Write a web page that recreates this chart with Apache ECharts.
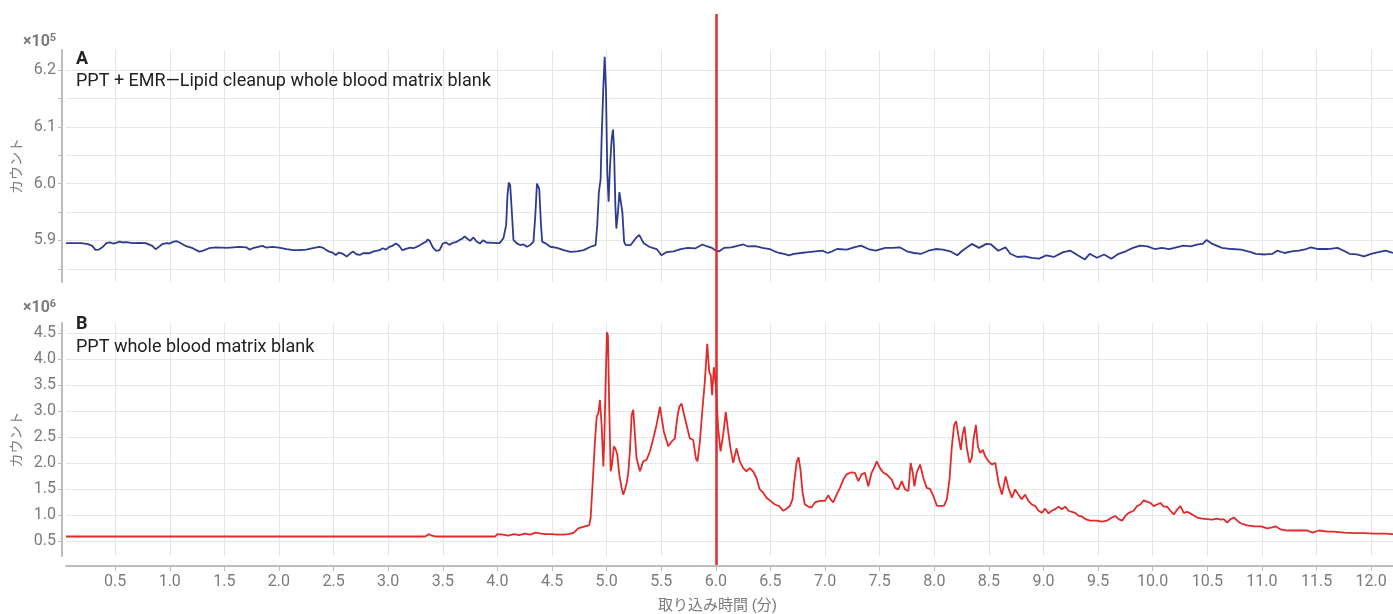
<!DOCTYPE html>
<html>
<head>
<meta charset="utf-8">
<script src="https://cdn.jsdelivr.net/npm/echarts@6/dist/echarts.min.js"></script>
<style>
  html, body { margin: 0; padding: 0; background: #fff; }
  #chart { width: 1393px; height: 614px; }
</style>
</head>
<body>
<div id="chart"></div>
<script>
// 取り込み時間 (分) と カウント — A: ×10^5, B: ×10^6
var timesA = [0.05, 0.19, 0.2, 0.25, 0.29, 0.32, 0.35, 0.38, 0.42, 0.45, 0.48, 0.51, 0.54, 0.57, 0.6, 0.66, 0.72, 0.78, 0.84, 0.87, 0.9, 0.93, 0.97, 1.0, 1.03, 1.06, 1.09, 1.15, 1.21, 1.27, 1.3, 1.36, 1.42, 1.48, 1.52, 1.58, 1.64, 1.7, 1.73, 1.76, 1.82, 1.85, 1.88, 1.94, 2.0, 2.07, 2.13, 2.19, 2.25, 2.31, 2.37, 2.4, 2.43, 2.46, 2.49, 2.52, 2.55, 2.58, 2.62, 2.65, 2.68, 2.71, 2.74, 2.77, 2.83, 2.86, 2.89, 2.92, 2.95, 2.98, 3.01, 3.04, 3.07, 3.1, 3.13, 3.17, 3.2, 3.23, 3.26, 3.29, 3.32, 3.35, 3.36, 3.38, 3.41, 3.44, 3.47, 3.5, 3.53, 3.56, 3.59, 3.62, 3.65, 3.68, 3.7, 3.72, 3.75, 3.78, 3.81, 3.84, 3.87, 3.9, 3.96, 4.02,
  4.055, 4.08, 4.092, 4.104, 4.117, 4.132, 4.147, 4.178, 4.208, 4.239, 4.27, 4.3, 4.33, 4.347, 4.362, 4.371, 4.383, 4.399, 4.41, 4.44, 4.485, 4.546, 4.607, 4.668, 4.73, 4.79, 4.853, 4.899, 4.914, 4.929, 4.945, 4.954, 4.969, 4.982, 4.994, 5.006, 5.018, 5.031, 5.046, 5.058, 5.067, 5.08, 5.089, 5.104, 5.117, 5.129, 5.144, 5.16, 5.175, 5.22, 5.267, 5.298, 5.34, 5.39, 5.42, 5.458, 5.502, 5.546, 5.612, 5.678, 5.744, 5.81, 5.877, 5.921, 5.965, 6.0,
  6.031, 6.075, 6.141, 6.207, 6.251, 6.295, 6.361, 6.427, 6.493, 6.537, 6.581, 6.626, 6.67, 6.714, 6.78, 6.846, 6.912, 6.978, 7.022, 7.066, 7.11, 7.198, 7.264, 7.33, 7.396, 7.463, 7.551, 7.617, 7.683, 7.749, 7.815, 7.881, 7.947, 8.013, 8.079, 8.145, 8.211, 8.256, 8.344, 8.41, 8.476, 8.52, 8.586, 8.652, 8.696, 8.762, 8.828, 8.894, 8.96, 9.026, 9.093, 9.181, 9.247, 9.313, 9.379, 9.423, 9.489, 9.555, 9.621, 9.687, 9.753, 9.819, 9.885, 9.952, 10.018, 10.084, 10.15, 10.216, 10.282, 10.348, 10.414, 10.458, 10.493, 10.546, 10.634, 10.722, 10.81, 10.899, 10.943, 11.031, 11.097, 11.141, 11.207, 11.273, 11.339, 11.405, 11.449, 11.515, 11.604, 11.692, 11.758, 11.802, 11.868, 11.934, 12.0, 12.066, 12.132, 12.2];
var countsA = [5.8953, 5.8953, 5.8947, 5.8935, 5.8906, 5.8835, 5.884, 5.8876, 5.8953, 5.8965, 5.8947, 5.8959, 5.8982, 5.8965, 5.897, 5.8953, 5.8959, 5.8953, 5.8906, 5.8847, 5.8888, 5.8935, 5.8953, 5.8947, 5.8976, 5.8988, 5.8965, 5.89, 5.8864, 5.8805, 5.8817, 5.8864, 5.888, 5.8876, 5.887, 5.888, 5.8888, 5.888, 5.884, 5.8864, 5.8894, 5.8906, 5.8876, 5.8888, 5.8876, 5.8847, 5.8829, 5.8829, 5.884, 5.8864, 5.8888, 5.8876, 5.8835, 5.8805, 5.8788, 5.8746, 5.8788, 5.877, 5.8717, 5.877, 5.8805, 5.8758, 5.8746, 5.8776, 5.8776, 5.8805, 5.8817, 5.8829, 5.8864, 5.884, 5.8888, 5.8906, 5.8947, 5.8906, 5.8829, 5.8858, 5.8876, 5.8864, 5.8888, 5.8917, 5.8953, 5.8982, 5.9018, 5.8994, 5.8876, 5.8817, 5.8829, 5.8947, 5.8965, 5.8923, 5.8959, 5.897, 5.9006, 5.9035, 5.9071, 5.904, 5.8994, 5.9053, 5.8982, 5.8947, 5.9006, 5.8965, 5.8959, 5.8953,
  5.904, 5.927, 5.979, 6.002, 5.997, 5.95, 5.901, 5.895, 5.892, 5.893, 5.889, 5.892, 5.898, 5.944, 6.0, 6.002, 5.991, 5.927, 5.898, 5.895, 5.889, 5.887, 5.883, 5.88, 5.881, 5.883, 5.889, 5.892, 5.927, 5.985, 6.008, 6.078, 6.165, 6.223, 6.165, 6.02, 5.968, 6.031, 6.078, 6.095, 6.066, 5.962, 5.921, 5.95, 5.985, 5.988, 5.95, 5.898, 5.892, 5.892, 5.904, 5.91, 5.895, 5.889, 5.887, 5.885, 5.874, 5.8795, 5.881, 5.885, 5.887, 5.886, 5.893, 5.8895, 5.887, 5.882,
  5.881, 5.887, 5.888, 5.891, 5.893, 5.8895, 5.89, 5.887, 5.885, 5.881, 5.878, 5.8766, 5.874, 5.8766, 5.878, 5.8795, 5.881, 5.882, 5.878, 5.881, 5.885, 5.884, 5.888, 5.891, 5.885, 5.882, 5.887, 5.887, 5.888, 5.881, 5.878, 5.8766, 5.882, 5.885, 5.884, 5.881, 5.874, 5.882, 5.894, 5.887, 5.894, 5.893, 5.882, 5.888, 5.8766, 5.871, 5.872, 5.8696, 5.868, 5.874, 5.871, 5.8795, 5.882, 5.874, 5.8667, 5.8766, 5.8696, 5.8754, 5.868, 5.8766, 5.881, 5.887, 5.891, 5.8895, 5.885, 5.887, 5.885, 5.888, 5.891, 5.8895, 5.893, 5.894, 5.901, 5.894, 5.887, 5.885, 5.884, 5.8795, 5.8766, 5.8754, 5.8766, 5.882, 5.878, 5.881, 5.882, 5.885, 5.888, 5.885, 5.885, 5.887, 5.881, 5.8766, 5.8754, 5.872, 5.8766, 5.8795, 5.882, 5.878];

var timesB = [0.05, 3.34, 3.37, 3.4, 3.43, 3.98, 4.0, 4.05, 4.1, 4.15, 4.2, 4.25, 4.3, 4.35, 4.4, 4.45, 4.5, 4.55, 4.6, 4.65, 4.7, 4.74, 4.8, 4.84, 4.854, 4.878, 4.893, 4.909, 4.924, 4.939, 4.954, 4.97, 4.979, 4.991, 5.003, 5.012, 5.024, 5.037, 5.049, 5.067, 5.085, 5.098, 5.116, 5.137, 5.152, 5.168, 5.183, 5.198, 5.213, 5.229, 5.244, 5.259, 5.274, 5.305, 5.335, 5.366, 5.396, 5.427, 5.457, 5.488, 5.503, 5.524, 5.543, 5.564, 5.595, 5.625, 5.646, 5.665, 5.686, 5.707, 5.732, 5.762, 5.793, 5.817, 5.832, 5.854, 5.878, 5.899, 5.921, 5.939, 5.954, 5.966, 5.982, 6.0, 6.021, 6.043, 6.067, 6.091, 6.113, 6.134, 6.159, 6.189, 6.219, 6.25, 6.28, 6.31, 6.34, 6.372, 6.402, 6.433, 6.463, 6.5, 6.54, 6.58, 6.616, 6.647, 6.677, 6.702, 6.717, 6.739, 6.757, 6.775, 6.794, 6.815, 6.846, 6.876, 6.907, 6.953, 7.0, 7.029, 7.05, 7.075, 7.106, 7.136, 7.167, 7.197, 7.243, 7.274, 7.304, 7.335, 7.365, 7.396, 7.426, 7.457, 7.473, 7.503, 7.534, 7.564, 7.61, 7.641, 7.671, 7.702, 7.732, 7.763, 7.784, 7.803, 7.818, 7.839, 7.87, 7.9, 7.931, 7.961, 7.992, 8.023, 8.053, 8.09, 8.115, 8.139, 8.161, 8.182, 8.2, 8.222, 8.243, 8.259, 8.277, 8.298, 8.323, 8.344, 8.359, 8.381, 8.399, 8.42, 8.445, 8.466, 8.497, 8.528, 8.558, 8.589, 8.619, 8.654, 8.679, 8.71, 8.74, 8.771, 8.8, 8.832, 8.862, 8.893, 8.924, 8.954, 8.985, 9.015, 9.046, 9.076, 9.107, 9.138, 9.168, 9.199, 9.229, 9.26, 9.291, 9.321, 9.352, 9.382, 9.428, 9.489, 9.535, 9.581, 9.627, 9.657, 9.688, 9.719, 9.749, 9.78, 9.826, 9.856, 9.887, 9.917, 9.948, 9.979, 10.009, 10.04, 10.07, 10.1, 10.131, 10.162, 10.193, 10.223, 10.254, 10.284, 10.315, 10.361, 10.407, 10.453, 10.498, 10.544, 10.59, 10.621, 10.651, 10.682, 10.713, 10.743, 10.774, 10.804, 10.865, 10.927, 10.988, 11.049, 11.095, 11.125, 11.171, 11.232, 11.294, 11.355, 11.416, 11.462, 11.523, 11.599, 11.66, 11.752, 11.844, 11.936, 12.028, 12.12, 12.2];
var countsB = [0.585, 0.585, 0.63, 0.6, 0.585, 0.585, 0.63, 0.62, 0.6, 0.63, 0.61, 0.64, 0.62, 0.66, 0.64, 0.63, 0.63, 0.62, 0.62, 0.63, 0.66, 0.74, 0.78, 0.8, 0.95, 1.84, 2.41, 2.89, 2.95, 3.21, 2.73, 1.93, 2.47, 3.56, 4.51, 4.45, 3.05, 1.84, 1.97, 2.32, 2.25, 2.16, 1.77, 1.52, 1.39, 1.49, 1.61, 1.81, 2.22, 2.92, 3.02, 2.54, 2.09, 1.84, 2.03, 2.06, 2.22, 2.47, 2.73, 3.08, 3.05, 2.6, 2.47, 2.32, 2.41, 2.47, 2.86, 3.08, 3.14, 2.95, 2.73, 2.47, 2.44, 2.09, 2.03, 2.41, 3.05, 3.56, 4.29, 3.75, 3.68, 3.3, 3.84, 3.49, 2.67, 2.22, 2.54, 2.98, 2.6, 2.28, 2.0, 2.28, 2.03, 1.9, 1.84, 1.9, 1.84, 1.71, 1.49, 1.43, 1.33, 1.27, 1.2, 1.17, 1.08, 1.12, 1.17, 1.3, 1.62, 2.0, 2.11, 1.87, 1.43, 1.2, 1.16, 1.14, 1.24, 1.27, 1.27, 1.38, 1.3, 1.24, 1.39, 1.52, 1.68, 1.78, 1.82, 1.81, 1.65, 1.78, 1.81, 1.55, 1.81, 1.94, 2.03, 1.9, 1.81, 1.78, 1.68, 1.52, 1.49, 1.65, 1.49, 1.46, 2.0, 1.81, 1.55, 1.81, 1.97, 1.71, 1.52, 1.5, 1.36, 1.18, 1.17, 1.18, 1.3, 1.68, 2.32, 2.73, 2.8, 2.51, 2.25, 2.54, 2.7, 2.29, 2.0, 2.1, 2.45, 2.73, 2.32, 2.19, 2.25, 2.13, 2.03, 1.97, 2.0, 1.62, 1.39, 1.74, 1.52, 1.33, 1.49, 1.39, 1.3, 1.39, 1.27, 1.2, 1.17, 1.08, 1.04, 1.12, 1.03, 1.08, 1.11, 1.16, 1.11, 1.16, 1.08, 1.06, 1.04, 0.98, 0.97, 0.92, 0.89, 0.89, 0.87, 0.89, 0.95, 0.98, 0.92, 0.89, 0.98, 1.04, 1.08, 1.17, 1.2, 1.28, 1.25, 1.23, 1.17, 1.2, 1.23, 1.16, 1.16, 1.08, 1.01, 1.1, 1.17, 1.04, 1.06, 1.01, 0.95, 0.93, 0.92, 0.91, 0.93, 0.91, 0.92, 0.85, 0.92, 0.95, 0.89, 0.84, 0.8, 0.78, 0.78, 0.74, 0.76, 0.78, 0.72, 0.7, 0.7, 0.7, 0.7, 0.66, 0.7, 0.68, 0.68, 0.66, 0.65, 0.65, 0.64, 0.64, 0.63];

var xTicks = [0.5, 1, 1.5, 2, 2.5, 3, 3.5, 4, 4.5, 5, 5.5, 6, 6.5, 7, 7.5, 8, 8.5, 9, 9.5, 10, 10.5, 11, 11.5, 12];
var yTicksA = [5.85, 5.9, 5.95, 6.0, 6.05, 6.1, 6.15, 6.2];
var yLabelsA = [5.9, 6.0, 6.1, 6.2];
var yTicksB = [0.5, 1.0, 1.5, 2.0, 2.5, 3.0, 3.5, 4.0, 4.5];
var markTime = 6.0;

var gray = '#7b7b7b';
var gridColor = '#e6e6e6';
var axisColor = '#bdbdbd';
var font = 'Roboto, "Noto Sans CJK JP", sans-serif';

function zip(xs, ys) {
  return xs.map(function (x, i) { return [x, ys[i]]; });
}
function fmt(v) { return v.toFixed(1); }

var chart = echarts.init(document.getElementById('chart'));

var expRich = {
  m: { fontSize: 16, color: gray, fontFamily: font },
  s: { fontSize: 11, color: gray, fontFamily: font, padding: [0, 0, 8, 0] }
};

var option = {
  animation: false,
  textStyle: { fontFamily: font },
  title: [
    { text: '{m|×10}{s|5}', left: 18, top: 28, textStyle: { rich: expRich } },
    { text: 'A', left: 71, top: 46, textStyle: { fontSize: 18, fontWeight: 'bold', color: '#222', fontFamily: font } },
    { text: 'PPT + EMR\u2014Lipid cleanup whole blood matrix blank', left: 71, top: 68, textStyle: { fontSize: 18, fontWeight: 'normal', color: '#222', fontFamily: font } },
    { text: '{m|×10}{s|6}', left: 18, top: 294, textStyle: { rich: expRich } },
    { text: 'B', left: 71, top: 311, textStyle: { fontSize: 18, fontWeight: 'bold', color: '#222', fontFamily: font } },
    { text: 'PPT whole blood matrix blank', left: 71, top: 334, textStyle: { fontSize: 18, fontWeight: 'normal', color: '#222', fontFamily: font } }
  ],
  grid: [
    { left: 66, right: 0, top: 50, height: 232, outerBoundsMode: 'none' },
    { left: 66, right: 0, top: 323, height: 233, outerBoundsMode: 'none' },
    { left: 66, right: 0, top: 14, bottom: 49, outerBoundsMode: 'none' }
  ],
  xAxis: [
    {
      type: 'value', gridIndex: 0, min: 0.05, max: 12.2,
      axisLine: { show: false }, axisTick: { show: false, customValues: xTicks },
      axisLabel: { show: false, customValues: xTicks },
      splitLine: { show: true, lineStyle: { color: gridColor, width: 1 } }
    },
    {
      type: 'value', gridIndex: 1, min: 0.05, max: 12.2, offset: 10,
      name: '取り込み時間 (分)', nameLocation: 'middle', nameGap: 33,
      nameTextStyle: { fontSize: 15, color: gray, fontFamily: font, padding: [0, 24, 0, 0] },
      axisLine: { show: true, onZero: false, lineStyle: { color: axisColor, width: 2 } },
      axisTick: { show: true, length: 5, customValues: xTicks, lineStyle: { color: axisColor } },
      axisLabel: { customValues: xTicks, formatter: fmt, fontSize: 16, color: gray, margin: 8 },
      splitLine: { show: true, lineStyle: { color: gridColor, width: 1 } }
    },
    {
      type: 'value', gridIndex: 2, min: 0.05, max: 12.2, show: false
    }
  ],
  yAxis: [
    {
      type: 'value', gridIndex: 0, min: 5.827, max: 6.235, offset: 4,
      name: 'カウント', nameLocation: 'middle', nameGap: 39,
      nameTextStyle: { fontSize: 14, color: gray, fontFamily: '"Noto Sans CJK JP", sans-serif' },
      axisLine: { show: true, lineStyle: { color: axisColor, width: 2 } },
      axisTick: { show: true, length: 4, customValues: yTicksA, lineStyle: { color: axisColor } },
      axisLabel: { customValues: yLabelsA, formatter: fmt, fontSize: 16, color: gray, margin: 6 },
      splitLine: { show: true, lineStyle: { color: gridColor, width: 1 } }
    },
    {
      type: 'value', gridIndex: 1, min: 0.21, max: 4.69, offset: 4,
      name: 'カウント', nameLocation: 'middle', nameGap: 39,
      nameTextStyle: { fontSize: 14, color: gray, fontFamily: '"Noto Sans CJK JP", sans-serif' },
      axisLine: { show: true, lineStyle: { color: axisColor, width: 2 } },
      axisTick: { show: true, length: 4, customValues: yTicksB, lineStyle: { color: axisColor } },
      axisLabel: { customValues: yTicksB, formatter: fmt, fontSize: 16, color: gray, margin: 6 },
      splitLine: { show: true, lineStyle: { color: gridColor, width: 1 } }
    },
    {
      type: 'value', gridIndex: 2, min: 0, max: 1, show: false
    }
  ],
  series: [
    {
      name: 'A', type: 'line', xAxisIndex: 0, yAxisIndex: 0,
      data: zip(timesA, countsA), showSymbol: false,
      lineStyle: { color: '#2e3b8f', width: 1.8 }, itemStyle: { color: '#2e3b8f' }
    },
    {
      name: 'B', type: 'line', xAxisIndex: 1, yAxisIndex: 1,
      data: zip(timesB, countsB), showSymbol: false,
      lineStyle: { color: '#e32a2a', width: 1.8 }, itemStyle: { color: '#e32a2a' }
    },
    {
      name: 'marker', type: 'line', xAxisIndex: 2, yAxisIndex: 2, data: [],
      markLine: {
        silent: true, symbol: 'none', label: { show: false },
        lineStyle: { color: '#e32a2a', width: 2.5, type: 'solid' },
        data: [{ xAxis: markTime }]
      }
    }
  ]
};

chart.setOption(option);
</script>
</body>
</html>
